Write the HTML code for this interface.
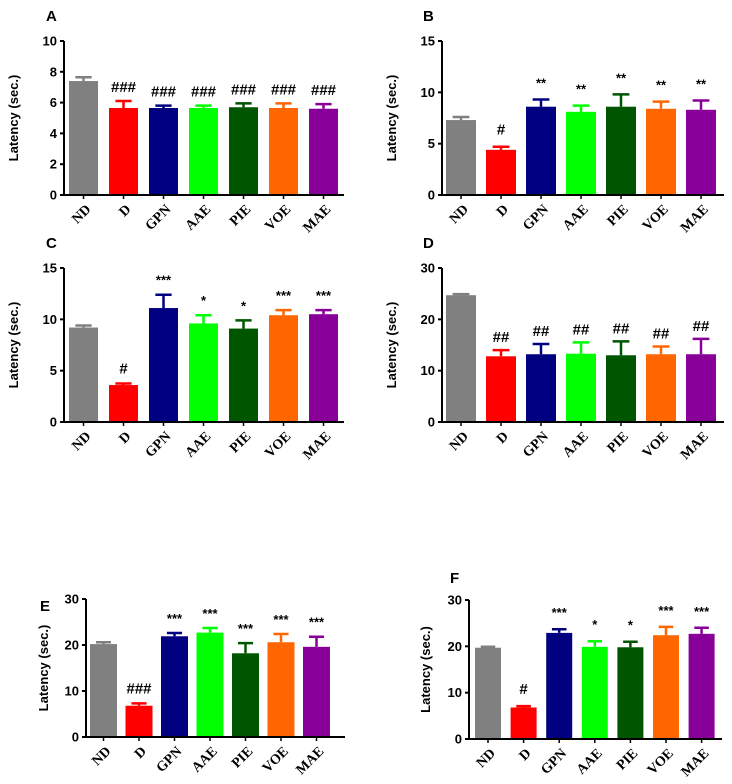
<!DOCTYPE html>
<html><head><meta charset="utf-8"><style>
body{margin:0;background:#fff;}
svg{display:block;font-family:"Liberation Sans",sans-serif;}
</style></head><body>
<svg id="chart" width="732" height="784"></svg>
<script>
const categories = ["ND","D","GPN","AAE","PIE","VOE","MAE"];
const colors = ["#808080","#ff0000","#000080","#00ff00","#005500","#ff6600","#880099"];
const valuesA = [7.4,5.65,5.65,5.65,5.7,5.65,5.6];
const errorsA = [0.25,0.45,0.15,0.15,0.25,0.3,0.3];
const annotA = ["","###","###","###","###","###","###"];
const valuesB = [7.3,4.4,8.6,8.1,8.6,8.4,8.3];
const errorsB = [0.3,0.3,0.7,0.6,1.2,0.7,0.9];
const annotB = ["","#","**","**","**","**","**"];
const valuesC = [9.2,3.6,11.1,9.6,9.1,10.4,10.5];
const errorsC = [0.2,0.15,1.3,0.8,0.8,0.5,0.4];
const annotC = ["","#","***","*","*","***","***"];
const valuesD = [24.7,12.8,13.2,13.3,13.0,13.2,13.2];
const errorsD = [0.2,1.2,2.0,2.2,2.7,1.5,3.0];
const annotD = ["","##","##","##","##","##","##"];
const valuesE = [20.2,6.8,21.9,22.7,18.2,20.6,19.6];
const errorsE = [0.4,0.5,0.7,1.0,2.2,1.8,2.2];
const annotE = ["","###","***","***","***","***","***"];
const valuesF = [19.7,6.8,22.9,19.9,19.8,22.4,22.7];
const errorsF = [0.2,0.3,0.8,1.2,1.2,1.8,1.3];
const annotF = ["","#","***","*","*","***","***"];
const ticksA = [0,2,4,6,8,10];
const ticksB = [0,5,10,15];
const ticksD = [0,10,20,30];

const NS="http://www.w3.org/2000/svg";
const svg=document.getElementById('chart');
function mk(tag,attrs,parent){const e=document.createElementNS(NS,tag);for(const k in attrs)e.setAttribute(k,attrs[k]);(parent||svg).appendChild(e);return e;}

function panel(p){
  const g=mk('g',{});
  
  
  const ymax=p.ticks[p.ticks.length-1];
  const y=v=>p.bottom-(v/ymax)*(p.bottom-p.top);
  const bx=i=>p.x0+i*p.step;
  const lab=mk('text',{x:p.lx,y:p.ly,'font-size':15,'font-weight':'bold'},g);lab.textContent=p.label;
  
  
  const yt=mk('text',{transform:`translate(${p.tx},${(p.top+p.bottom)/2}) rotate(-90)`,'text-anchor':'middle','font-size':13,'font-weight':'bold'},g);yt.textContent='Latency (sec.)';
  
  
  p.vals.forEach((v,i)=>{
    const cx=bx(i)+p.bw/2;
    const r=mk('rect',{x:bx(i),y:y(v),width:p.bw,height:p.bottom-y(v),fill:colors[i]},g);
    
    
    const et=y(v+p.errs[i]);
    const e=mk('path',{d:`M${cx},${y(v)}V${et}M${cx-p.bw*0.28},${et}H${cx+p.bw*0.28}`,stroke:colors[i],'stroke-width':2.5,fill:'none'},g);
    
    
    if(p.ann[i]){
      const a=mk('text',{x:cx,y:et-p.aoff,'text-anchor':'middle','font-size':p.ann[i].includes('#')?15:13,'font-weight':'bold'},g);a.textContent=p.ann[i];
      
      
    }
    mk('line',{x1:cx,x2:cx,y1:p.bottom,y2:p.bottom+4,stroke:'#000','stroke-width':1.5},g);
    const xl=mk('text',{transform:`translate(${cx+8},${p.bottom+15}) rotate(-45)`,'text-anchor':'end','font-size':14,'font-weight':'bold','font-family':'Liberation Serif, serif'},g);xl.textContent=categories[i];
    
    
  });
  mk('path',{d:`M${p.ax},${p.top}V${p.bottom}H${p.xend}`,stroke:'#000','stroke-width':2,fill:'none'},g);
  p.ticks.forEach(t=>{
    mk('line',{x1:p.ax-4,x2:p.ax,y1:y(t),y2:y(t),stroke:'#000','stroke-width':2},g);
    const tl=mk('text',{x:p.ax-7,y:y(t)+4.5,'text-anchor':'end','font-size':13,'font-weight':'bold'},g);tl.textContent=t;
    
    
  });
}
panel({label:'A',lx:46,ly:21,tx:18,ax:64,top:41,bottom:195,xend:344,x0:69,bw:29,step:40,ticks:ticksA,vals:valuesA,errs:errorsA,ann:annotA,aoff:9});
panel({label:'B',lx:423,ly:21,tx:396,ax:442,top:41,bottom:195,xend:724,x0:446,bw:30,step:40,ticks:ticksB,vals:valuesB,errs:errorsB,ann:annotB,aoff:12});
panel({label:'C',lx:46,ly:248,tx:18,ax:64,top:268,bottom:422,xend:344,x0:69,bw:29,step:40,ticks:ticksB,vals:valuesC,errs:errorsC,ann:annotC,aoff:10});
panel({label:'D',lx:423,ly:248,tx:396,ax:442,top:268,bottom:422,xend:724,x0:446,bw:30,step:40,ticks:ticksD,vals:valuesD,errs:errorsD,ann:annotD,aoff:8});
panel({label:'E',lx:40,ly:611,tx:48,ax:86,top:599,bottom:737,xend:345,x0:90,bw:27,step:35.5,ticks:ticksD,vals:valuesE,errs:errorsE,ann:annotE,aoff:10});
panel({label:'F',lx:450,ly:583,tx:430,ax:469,top:600,bottom:739,xend:722,x0:475,bw:26,step:35.6,ticks:ticksD,vals:valuesF,errs:errorsF,ann:annotF,aoff:12});
</script>
</body></html>
